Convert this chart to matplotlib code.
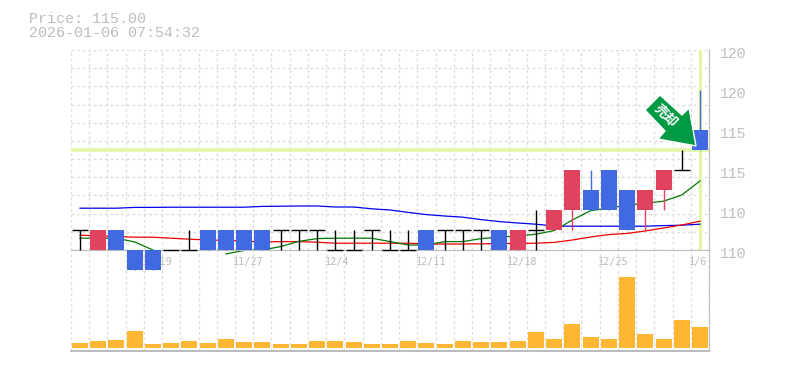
import numpy as np
import matplotlib
matplotlib.use("Agg")
import matplotlib.pyplot as plt
from matplotlib.patches import Polygon

W, H = 785, 370
GRAY = "#bdbdbd"
GRID = "#dddddd"
RED = "#e0425f"
BLUE = "#4169e1"
ORANGE = "#ffb733"
HILITE = "#e3f5a6"

# candles, one per trading day
opens = [111, 110, 111, 110, 110, 110, 110, 111, 111, 111, 111, 111, 111, 111, 110, 110, 111, 110,
         110, 111, 111, 111, 111, 111, 110, 111, 111, 112, 113, 114, 113, 112, 113, 114, 116]
closes = [111, 111, 110, 109, 109, 110, 110, 110, 110, 110, 110, 111, 111, 111, 110, 110, 111, 110,
          110, 110, 111, 111, 111, 110, 111, 111, 112, 114, 112, 112, 111, 113, 114, 114, 115]
highs = [111, 111, 111, 110, 110, 110, 111, 111, 111, 111, 111, 111, 111, 111, 111, 111, 111, 111,
         111, 111, 111, 111, 111, 111, 111, 112, 112, 114, 114, 114, 113, 113, 114, 115, 118]
lows = [110, 110, 110, 109, 109, 110, 110, 110, 110, 110, 110, 110, 110, 110, 110, 110, 110, 110,
        110, 110, 110, 110, 110, 110, 110, 110, 111, 111, 112, 112, 111, 111, 112, 114, 115]

# moving averages
ma_blue = [112.09, 112.09, 112.09, 112.13, 112.13, 112.14, 112.14, 112.14, 112.14, 112.14, 112.18, 112.19,
           112.20, 112.20, 112.15, 112.15, 112.06, 112.00, 111.88, 111.77, 111.70, 111.64, 111.52, 111.42,
           111.35, 111.29, 111.20, 111.19, 111.19, 111.19, 111.19, 111.19, 111.22, 111.24, 111.29]
ma_red = [110.74, 110.71, 110.68, 110.64, 110.64, 110.59, 110.54, 110.50, 110.48, 110.45, 110.40, 110.42,
          110.42, 110.39, 110.34, 110.34, 110.34, 110.34, 110.34, 110.30, 110.30, 110.30, 110.31, 110.32,
          110.33, 110.34, 110.38, 110.50, 110.65, 110.77, 110.83, 110.95, 111.10, 111.25, 111.44]
ma_green = [110.59, 110.59, 110.59, 110.40, 110.00, np.nan, np.nan, np.nan, 109.80, 109.98, 110.00, 110.17,
            110.43, 110.57, 110.59, 110.59, 110.59, 110.42, 110.25, 110.25, 110.42, 110.42, 110.57, 110.65,
            110.70, 110.79, 110.97, 111.50, 111.97, 112.09, 112.24, 112.34, 112.44, 112.75, 113.45]

volume = [5, 7, 8, 17, 4, 5, 7, 5, 9, 6, 6, 4, 4, 7, 7, 6, 4, 4,
          7, 5, 4, 7, 6, 6, 7, 16, 9, 24, 11, 9, 71, 14, 9, 28, 21]

date_labels = ["11/19", "11/27", "12/4", "12/11", "12/18", "12/25", "1/6"]
date_pos = [3.4, 8.4, 13.4, 18.4, 23.4, 28.4, 33.4]
price_ticks = [110, 112, 114, 116, 118, 120]
price_labels = ["110", "110", "115", "115", "120", "120"]
last_price = 115

title_lines = ["Price: 115.00", "2026-01-06 07:54:32"]
arrow_text = "売却"

plt.rcParams["font.family"] = ["Liberation Mono", "DejaVu Sans Mono"]

fig = plt.figure(figsize=(W / 100, H / 100), dpi=100)


def px_axes(left, top, right, bottom):
    return fig.add_axes([left / W, 1 - bottom / H, (right - left) / W, (bottom - top) / H])


ax_vol = px_axes(70.9, 250, 709.1, 350.5)
ax = px_axes(70.9, 50, 709.1, 250)
ax.patch.set_alpha(0)

x = np.arange(len(opens))
edges = np.arange(len(opens) + 1) - 0.5

# volume panel
ax_vol.bar(x, volume, width=0.877, color=ORANGE, zorder=3)
ax_vol.set_xlim(-0.5, 34.5)
ax_vol.set_ylim(-2.5, 97.5)
ax_vol.set_xticks(edges)
ax_vol.set_yticks([])
ax_vol.tick_params(length=0, labelbottom=False)
ax_vol.grid(axis="x", color=GRID, linestyle=(0, (2, 2)), linewidth=1)
ax_vol.set_axisbelow(True)
for s in ["top", "left"]:
    ax_vol.spines[s].set_visible(False)
ax_vol.spines["right"].set_color(GRAY)
ax_vol.spines["bottom"].set_color(GRAY)
ax_vol.spines["bottom"].set_linewidth(1.4)

# price panel
ax.set_xlim(-0.5, 34.5)
ax.set_ylim(110, 120)
ax.set_xticks(date_pos)
ax.set_xticklabels(date_labels, ha="left", color="#bbbbbb", fontsize=7.3, family="DejaVu Sans Mono")
ax.set_xticks(edges, minor=True)
ax.set_yticks(np.linspace(110, 120, 12), minor=True)
ax.set_yticks([])
ax.tick_params(which="both", length=0)
ax.tick_params(axis="x", pad=5)
ax.grid(which="minor", color=GRID, linestyle=(0, (2, 2)), linewidth=1)
ax.set_axisbelow(True)
for s in ["top", "left"]:
    ax.spines[s].set_visible(False)
ax.spines["right"].set_color(GRAY)
ax.spines["bottom"].set_color(GRAY)

for p, lab in zip(price_ticks, price_labels):
    ax.annotate(lab, xy=(1, p), xycoords=("axes fraction", "data"), xytext=(11, -3.5),
                textcoords="offset pixels", color=GRAY, fontsize=10.6, ha="left", va="center")

ax.axhline(last_price, color=HILITE, linewidth=2.6, zorder=1)
ax.axvline(x[-1], ymin=0.005, color=HILITE, linewidth=2.4, zorder=1)

ax.plot(x, ma_blue, color="#0000ee", linewidth=0.9, zorder=2, clip_on=False)
ax.plot(x, ma_red, color="#ee0000", linewidth=0.9, zorder=2, clip_on=False)
ax.plot(x, ma_green, color="#007700", linewidth=0.9, zorder=2, clip_on=False)

for i in x:
    o, c = opens[i], closes[i]
    if c > o:
        col = RED
    elif c < o:
        col = BLUE
    else:
        col = "black"
    ax.vlines(i, lows[i], highs[i], color=col, linewidth=1.0, zorder=3, clip_on=False)
    if o == c:
        ax.hlines(o, i - 0.44, i + 0.44, color="black", linewidth=1.0, zorder=3, clip_on=False)
    else:
        ax.bar(i, abs(c - o), bottom=min(o, c), width=0.877, color=col, zorder=4, clip_on=False)

# title text
fig.text(29 / W, 1 - 19 / H, title_lines[0], color=GRAY, fontsize=10.8, va="center")
fig.text(29 / W, 1 - 33 / H, title_lines[1], color=GRAY, fontsize=10.8, va="center")

# green signal arrow, pixel outline
arrow_px = np.array([(660, 95), (645, 110), (665, 131), (658, 139), (696, 146), (689, 108), (682, 115)], dtype=float)
arrow_xy = np.column_stack([arrow_px[:, 0] / W, 1 - arrow_px[:, 1] / H])
ax.add_patch(Polygon(arrow_xy, closed=True, facecolor="#009944", edgecolor="white", linewidth=1.0,
                     transform=fig.transFigure, clip_on=False, zorder=6))
ax.text(666 / W, 1 - 116 / H, arrow_text, transform=fig.transFigure, color="white", fontsize=9.5,
        fontweight="bold", rotation=-45, ha="center", va="center", zorder=7,
        family=["Noto Sans CJK JP", "DejaVu Sans"])

fig.savefig("out.png", dpi=100)
